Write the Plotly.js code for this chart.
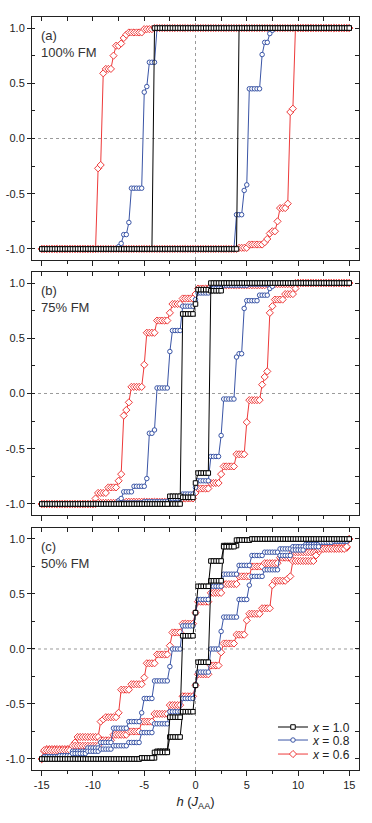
<!DOCTYPE html>
<html><head><meta charset="utf-8">
<script src="https://cdn.plot.ly/plotly-3.0.1.min.js"></script>
<style>html,body{margin:0;padding:0;background:#fff;}#chart{width:372px;height:823px;}</style>
</head><body><div id="chart"></div>
<script>
// field grid h (J_AA)
const H = [-15,-14.75,-14.5,-14.25,-14,-13.75,-13.5,-13.25,-13,-12.75,
-12.5,-12.25,-12,-11.75,-11.5,-11.25,-11,-10.75,-10.5,-10.25,
-10,-9.75,-9.5,-9.25,-9,-8.75,-8.5,-8.25,-8,-7.75,
-7.5,-7.25,-7,-6.75,-6.5,-6.25,-6,-5.75,-5.5,-5.25,
-5,-4.75,-4.5,-4.25,-4,-3.75,-3.5,-3.25,-3,-2.75,
-2.5,-2.25,-2,-1.75,-1.5,-1.25,-1,-0.75,-0.5,-0.25,
0,0.25,0.5,0.75,1,1.25,1.5,1.75,2,2.25,
2.5,2.75,3,3.25,3.5,3.75,4,4.25,4.5,4.75,
5,5.25,5.5,5.75,6,6.25,6.5,6.75,7,7.25,
7.5,7.75,8,8.25,8.5,8.75,9,9.25,9.5,9.75,
10,10.25,10.5,10.75,11,11.25,11.5,11.75,12,12.25,
12.5,12.75,13,13.25,13.5,13.75,14,14.25,14.5,14.75,
15];

// ---- panel (a) 100% FM ----
const aBlackDown = [-1,-1,-1,-1,-1,-1,-1,-1,-1,-1,
-1,-1,-1,-1,-1,-1,-1,-1,-1,-1,
-1,-1,-1,-1,-1,-1,-1,-1,-1,-1,
-1,-1,-1,-1,-1,-1,-1,-1,-1,-1,
-1,-1,-1,-1,1,1,1,1,1,1,
1,1,1,1,1,1,1,1,1,1,
1,1,1,1,1,1,1,1,1,1,
1,1,1,1,1,1,1,1,1,1,
1,1,1,1,1,1,1,1,1,1,
1,1,1,1,1,1,1,1,1,1,
1,1,1,1,1,1,1,1,1,1,
1,1,1,1,1,1,1,1,1,1,
1];
const aBlackUp = [-1,-1,-1,-1,-1,-1,-1,-1,-1,-1,
-1,-1,-1,-1,-1,-1,-1,-1,-1,-1,
-1,-1,-1,-1,-1,-1,-1,-1,-1,-1,
-1,-1,-1,-1,-1,-1,-1,-1,-1,-1,
-1,-1,-1,-1,-1,-1,-1,-1,-1,-1,
-1,-1,-1,-1,-1,-1,-1,-1,-1,-1,
-1,-1,-1,-1,-1,-1,-1,-1,-1,-1,
-1,-1,-1,-1,-1,-1,-1,1,1,1,
1,1,1,1,1,1,1,1,1,1,
1,1,1,1,1,1,1,1,1,1,
1,1,1,1,1,1,1,1,1,1,
1,1,1,1,1,1,1,1,1,1,
1];
const aBlueDown = [-1,-1,-1,-1,-1,-1,-1,-1,-1,-1,
-1,-1,-1,-1,-1,-1,-1,-1,-1,-1,
-1,-1,-1,-1,-1,-1,-1,-1,-1,-1,
-0.98,-0.95,-0.87,-0.87,-0.76,-0.45,-0.45,-0.45,-0.45,-0.45,
0.42,0.47,0.69,0.69,0.69,1,1,1,1,1,
1,1,1,1,1,1,1,1,1,1,
1,1,1,1,1,1,1,1,1,1,
1,1,1,1,1,1,1,1,1,1,
1,1,1,1,1,1,1,1,1,1,
1,1,1,1,1,1,1,1,1,1,
1,1,1,1,1,1,1,1,1,1,
1,1,1,1,1,1,1,1,1,1,
1];
const aBlueUp = [-1,-1,-1,-1,-1,-1,-1,-1,-1,-1,
-1,-1,-1,-1,-1,-1,-1,-1,-1,-1,
-1,-1,-1,-1,-1,-1,-1,-1,-1,-1,
-1,-1,-1,-1,-1,-1,-1,-1,-1,-1,
-1,-1,-1,-1,-1,-1,-1,-1,-1,-1,
-1,-1,-1,-1,-1,-1,-1,-1,-1,-1,
-1,-1,-1,-1,-1,-1,-1,-1,-1,-1,
-1,-1,-1,-1,-1,-1,-0.69,-0.69,-0.69,-0.47,
-0.42,0.45,0.45,0.45,0.45,0.45,0.76,0.87,0.87,0.95,
0.98,1,1,1,1,1,1,1,1,1,
1,1,1,1,1,1,1,1,1,1,
1,1,1,1,1,1,1,1,1,1,
1];
const aRedDown = [-1,-1,-1,-1,-1,-1,-1,-1,-1,-1,
-1,-1,-1,-1,-1,-1,-1,-1,-1,-1,
-1,-1,-0.27,-0.24,0.59,0.63,0.63,0.63,0.75,0.84,
0.84,0.86,0.91,0.94,0.96,0.96,0.96,0.96,0.96,0.96,
0.99,0.99,0.99,0.99,1,1,1,1,1,1,
1,1,1,1,1,1,1,1,1,1,
1,1,1,1,1,1,1,1,1,1,
1,1,1,1,1,1,1,1,1,1,
1,1,1,1,1,1,1,1,1,1,
1,1,1,1,1,1,1,1,1,1,
1,1,1,1,1,1,1,1,1,1,
1,1,1,1,1,1,1,1,1,1,
1];
const aRedUp = [-1,-1,-1,-1,-1,-1,-1,-1,-1,-1,
-1,-1,-1,-1,-1,-1,-1,-1,-1,-1,
-1,-1,-1,-1,-1,-1,-1,-1,-1,-1,
-1,-1,-1,-1,-1,-1,-1,-1,-1,-1,
-1,-1,-1,-1,-1,-1,-1,-1,-1,-1,
-1,-1,-1,-1,-1,-1,-1,-1,-1,-1,
-1,-1,-1,-1,-1,-1,-1,-1,-1,-1,
-1,-1,-1,-1,-1,-1,-1,-0.99,-0.99,-0.99,
-0.99,-0.96,-0.96,-0.96,-0.96,-0.96,-0.96,-0.94,-0.91,-0.86,
-0.84,-0.84,-0.75,-0.63,-0.63,-0.63,-0.59,0.24,0.27,1,
1,1,1,1,1,1,1,1,1,1,
1,1,1,1,1,1,1,1,1,1,
1];

// ---- panel (b) 75% FM ----
const bBlackDown = [-1,-1,-1,-1,-1,-1,-1,-1,-1,-1,
-1,-1,-1,-1,-1,-1,-1,-1,-1,-1,
-1,-1,-1,-1,-1,-1,-1,-1,-1,-1,
-1,-1,-1,-1,-1,-1,-1,-1,-1,-1,
-1,-1,-1,-1,-1,-1,-1,-1,-1,-1,
-1,-1,-1,-1,-1,0.72,0.72,0.72,0.72,0.72,
0.81,0.94,0.94,0.94,0.94,0.94,0.93,0.93,0.93,0.93,
0.93,1,1,1,1,1,1,1,1,1,
1,1,1,1,1,1,1,1,1,1,
1,1,1,1,1,1,1,1,1,1,
1,1,1,1,1,1,1,1,1,1,
1,1,1,1,1,1,1,1,1,1,
1];
const bBlackUp = [-1,-1,-1,-1,-1,-1,-1,-1,-1,-1,
-1,-1,-1,-1,-1,-1,-1,-1,-1,-1,
-1,-1,-1,-1,-1,-1,-1,-1,-1,-1,
-1,-1,-1,-1,-1,-1,-1,-1,-1,-1,
-1,-1,-1,-1,-1,-1,-1,-1,-1,-1,
-0.93,-0.93,-0.93,-0.93,-0.93,-0.94,-0.94,-0.94,-0.94,-0.94,
-0.81,-0.72,-0.72,-0.72,-0.72,-0.72,1,1,1,1,
1,1,1,1,1,1,1,1,1,1,
1,1,1,1,1,1,1,1,1,1,
1,1,1,1,1,1,1,1,1,1,
1,1,1,1,1,1,1,1,1,1,
1,1,1,1,1,1,1,1,1,1,
1];
const bBlueDown = [-1,-1,-1,-1,-1,-1,-1,-1,-1,-1,
-1,-1,-1,-1,-1,-1,-1,-1,-1,-1,
-1,-1,-1,-1,-1,-1,-1,-1,-1,-1,
-0.97,-0.95,-0.89,-0.89,-0.89,-0.89,-0.84,-0.84,-0.84,-0.84,
-0.84,-0.77,-0.36,-0.36,-0.33,0.05,0.05,0.05,0.05,0.05,
0.38,0.57,0.57,0.57,0.57,0.79,0.79,0.79,0.79,0.79,
0.85,0.91,0.91,0.91,0.91,0.91,0.95,0.95,0.95,0.95,
0.95,0.98,0.98,0.98,0.98,0.98,0.98,0.98,0.98,0.98,
0.98,0.99,0.99,0.99,0.99,0.99,0.99,0.99,0.99,0.99,
0.99,1,1,1,1,1,1,1,1,1,
1,1,1,1,1,1,1,1,1,1,
1,1,1,1,1,1,1,1,1,1,
1];
const bBlueUp = [-1,-1,-1,-1,-1,-1,-1,-1,-1,-1,
-1,-1,-1,-1,-1,-1,-1,-1,-1,-1,
-1,-1,-1,-1,-1,-1,-1,-1,-1,-1,
-0.99,-0.99,-0.99,-0.99,-0.99,-0.99,-0.99,-0.99,-0.99,-0.99,
-0.98,-0.98,-0.98,-0.98,-0.98,-0.98,-0.98,-0.98,-0.98,-0.98,
-0.95,-0.95,-0.95,-0.95,-0.95,-0.91,-0.91,-0.91,-0.91,-0.91,
-0.85,-0.79,-0.79,-0.79,-0.79,-0.79,-0.57,-0.57,-0.57,-0.57,
-0.38,-0.05,-0.05,-0.05,-0.05,-0.05,0.33,0.36,0.36,0.77,
0.84,0.84,0.84,0.84,0.84,0.89,0.89,0.89,0.89,0.95,
0.97,1,1,1,1,1,1,1,1,1,
1,1,1,1,1,1,1,1,1,1,
1,1,1,1,1,1,1,1,1,1,
1];
const bRedDown = [-1,-1,-1,-1,-1,-1,-1,-1,-1,-1,
-1,-1,-1,-1,-1,-1,-1,-1,-1,-1,
-1,-0.95,-0.9,-0.9,-0.9,-0.9,-0.85,-0.85,-0.85,-0.85,
-0.79,-0.73,-0.2,-0.15,-0.08,0.06,0.06,0.06,0.06,0.06,
0.26,0.55,0.55,0.55,0.55,0.66,0.66,0.66,0.66,0.66,
0.73,0.81,0.81,0.81,0.81,0.86,0.86,0.86,0.86,0.86,
0.9,0.95,0.95,0.95,0.95,0.95,0.97,0.97,0.97,0.97,
0.97,0.98,0.98,0.98,0.98,0.98,0.98,0.98,0.98,0.98,
0.98,0.98,0.98,0.98,0.98,0.98,0.98,0.98,0.99,0.99,
0.99,0.99,0.99,0.99,0.99,0.99,0.99,0.99,0.99,1,
1,1,1,1,1,1,1,1,1,1,
1,1,1,1,1,1,1,1,1,1,
1];
const bRedUp = [-1,-1,-1,-1,-1,-1,-1,-1,-1,-1,
-1,-1,-1,-1,-1,-1,-1,-1,-1,-1,
-1,-1,-0.99,-0.99,-0.99,-0.99,-0.99,-0.99,-0.99,-0.99,
-0.99,-0.99,-0.99,-0.98,-0.98,-0.98,-0.98,-0.98,-0.98,-0.98,
-0.98,-0.98,-0.98,-0.98,-0.98,-0.98,-0.98,-0.98,-0.98,-0.98,
-0.97,-0.97,-0.97,-0.97,-0.97,-0.95,-0.95,-0.95,-0.95,-0.95,
-0.9,-0.86,-0.86,-0.86,-0.86,-0.86,-0.81,-0.81,-0.81,-0.81,
-0.73,-0.66,-0.66,-0.66,-0.66,-0.66,-0.55,-0.55,-0.55,-0.55,
-0.26,-0.06,-0.06,-0.06,-0.06,-0.06,0.08,0.15,0.2,0.73,
0.79,0.85,0.85,0.85,0.85,0.9,0.9,0.9,0.9,0.95,
1,1,1,1,1,1,1,1,1,1,
1,1,1,1,1,1,1,1,1,1,
1];

// ---- panel (c) 50% FM ----
const cBlackDown = [-1,-1,-1,-1,-1,-1,-1,-1,-1,-1,
-1,-1,-1,-1,-1,-1,-1,-1,-1,-1,
-1,-1,-1,-1,-1,-1,-1,-1,-1,-1,
-1,-1,-1,-1,-1,-1,-1,-1,-1,-0.99,
-0.99,-0.99,-0.99,-0.99,-0.99,-0.93,-0.93,-0.93,-0.93,-0.93,
-0.8,-0.8,-0.8,-0.8,-0.8,-0.57,-0.57,-0.57,-0.57,-0.57,
-0.33,-0.12,-0.12,-0.12,-0.12,-0.12,0.62,0.62,0.62,0.62,
0.62,0.94,0.94,0.94,0.94,0.94,0.94,0.99,0.99,0.99,
0.99,0.99,1,1,1,1,1,1,1,1,
1,1,1,1,1,1,1,1,1,1,
1,1,1,1,1,1,1,1,1,1,
1,1,1,1,1,1,1,1,1,1,
1];
const cBlackUp = [-1,-1,-1,-1,-1,-1,-1,-1,-1,-1,
-1,-1,-1,-1,-1,-1,-1,-1,-1,-1,
-1,-1,-1,-1,-1,-1,-1,-1,-1,-1,
-1,-1,-1,-1,-1,-1,-1,-1,-1,-0.99,
-0.99,-0.99,-0.99,-0.99,-0.94,-0.94,-0.94,-0.94,-0.94,-0.94,
-0.62,-0.62,-0.62,-0.62,-0.62,0.12,0.12,0.12,0.12,0.12,
0.33,0.57,0.57,0.57,0.57,0.57,0.8,0.8,0.8,0.8,
0.8,0.93,0.93,0.93,0.93,0.93,0.99,0.99,0.99,0.99,
0.99,0.99,1,1,1,1,1,1,1,1,
1,1,1,1,1,1,1,1,1,1,
1,1,1,1,1,1,1,1,1,1,
1,1,1,1,1,1,1,1,1,1,
1];
const cBlueDown = [-1,-0.98,-0.98,-0.98,-0.98,-0.98,-0.98,-0.97,-0.97,-0.97,
-0.97,-0.97,-0.93,-0.93,-0.93,-0.93,-0.93,-0.93,-0.9,-0.9,
-0.9,-0.9,-0.9,-0.85,-0.85,-0.85,-0.85,-0.85,-0.72,-0.72,
-0.72,-0.72,-0.72,-0.72,-0.66,-0.66,-0.66,-0.66,-0.66,-0.58,
-0.45,-0.45,-0.45,-0.45,-0.29,-0.29,-0.29,-0.29,-0.29,-0.29,
-0.16,0,0,0,0,0.21,0.21,0.21,0.21,0.21,
0.33,0.45,0.45,0.45,0.45,0.45,0.57,0.57,0.57,0.57,
0.57,0.68,0.68,0.68,0.68,0.68,0.68,0.76,0.76,0.76,
0.76,0.76,0.85,0.85,0.85,0.85,0.85,0.88,0.88,0.88,
0.88,0.88,0.88,0.91,0.91,0.91,0.91,0.91,0.93,0.93,
0.93,0.93,0.93,0.95,0.95,0.95,0.95,0.95,0.95,0.97,
0.97,0.97,0.97,0.97,0.98,0.98,0.98,0.98,0.98,0.98,
1];
const cBlueUp = [-1,-0.98,-0.98,-0.98,-0.98,-0.98,-0.98,-0.97,-0.97,-0.97,
-0.97,-0.97,-0.95,-0.95,-0.95,-0.95,-0.95,-0.95,-0.93,-0.93,
-0.93,-0.93,-0.93,-0.91,-0.91,-0.91,-0.91,-0.91,-0.88,-0.88,
-0.88,-0.88,-0.88,-0.88,-0.85,-0.85,-0.85,-0.85,-0.85,-0.76,
-0.76,-0.76,-0.76,-0.76,-0.68,-0.68,-0.68,-0.68,-0.68,-0.68,
-0.57,-0.57,-0.57,-0.57,-0.57,-0.45,-0.45,-0.45,-0.45,-0.45,
-0.33,-0.21,-0.21,-0.21,-0.21,-0.21,0,0,0,0,
0.16,0.29,0.29,0.29,0.29,0.29,0.29,0.45,0.45,0.45,
0.45,0.58,0.66,0.66,0.66,0.66,0.66,0.72,0.72,0.72,
0.72,0.72,0.72,0.85,0.85,0.85,0.85,0.85,0.9,0.9,
0.9,0.9,0.9,0.93,0.93,0.93,0.93,0.93,0.93,0.97,
0.97,0.97,0.97,0.97,0.98,0.98,0.98,0.98,0.98,0.98,
1];
const cRedDown = [-1,-0.93,-0.91,-0.91,-0.91,-0.91,-0.91,-0.91,-0.91,-0.91,
-0.91,-0.91,-0.91,-0.85,-0.8,-0.8,-0.8,-0.8,-0.8,-0.8,
-0.8,-0.8,-0.8,-0.66,-0.64,-0.62,-0.62,-0.62,-0.62,-0.62,
-0.58,-0.37,-0.37,-0.37,-0.37,-0.32,-0.32,-0.32,-0.32,-0.32,
-0.26,-0.13,-0.13,-0.13,-0.13,-0.05,-0.05,-0.05,-0.05,-0.05,
0.03,0.15,0.15,0.15,0.15,0.23,0.23,0.23,0.23,0.23,
0.33,0.43,0.43,0.43,0.43,0.43,0.51,0.51,0.51,0.51,
0.51,0.59,0.59,0.59,0.59,0.59,0.59,0.66,0.66,0.66,
0.66,0.66,0.75,0.75,0.75,0.75,0.75,0.78,0.78,0.78,
0.78,0.78,0.78,0.83,0.83,0.83,0.83,0.83,0.88,0.88,
0.88,0.88,0.88,0.88,0.88,0.88,0.88,0.88,0.88,0.92,
0.92,0.92,0.92,0.92,0.92,0.92,0.92,0.92,0.92,0.92,
1];
const cRedUp = [-1,-0.92,-0.92,-0.92,-0.92,-0.92,-0.92,-0.92,-0.92,-0.92,
-0.92,-0.92,-0.88,-0.88,-0.88,-0.88,-0.88,-0.88,-0.88,-0.88,
-0.88,-0.88,-0.88,-0.83,-0.83,-0.83,-0.83,-0.83,-0.78,-0.78,
-0.78,-0.78,-0.78,-0.78,-0.75,-0.75,-0.75,-0.75,-0.75,-0.66,
-0.66,-0.66,-0.66,-0.66,-0.59,-0.59,-0.59,-0.59,-0.59,-0.59,
-0.51,-0.51,-0.51,-0.51,-0.51,-0.43,-0.43,-0.43,-0.43,-0.43,
-0.33,-0.23,-0.23,-0.23,-0.23,-0.23,-0.15,-0.15,-0.15,-0.15,
-0.03,0.05,0.05,0.05,0.05,0.05,0.13,0.13,0.13,0.13,
0.26,0.32,0.32,0.32,0.32,0.32,0.37,0.37,0.37,0.37,
0.58,0.62,0.62,0.62,0.62,0.62,0.64,0.66,0.8,0.8,
0.8,0.8,0.8,0.8,0.8,0.8,0.8,0.85,0.91,0.91,
0.91,0.91,0.91,0.91,0.91,0.91,0.91,0.91,0.91,0.93,
1];

const seriesNames = ['<i>x</i> = 1.0', '<i>x</i> = 0.8', '<i>x</i> = 0.6'];
const panelLabels = ['(a)<br>100% FM', '(b)<br>75% FM', '(c)<br>50% FM'];
const xTickVals = [-15, -10, -5, 0, 5, 10, 15];
const xTickText = ['-15', '-10', '-5', '0', '5', '10', '15'];
const yTickVals = [-1, -0.5, 0, 0.5, 1];
const yTickText = ['-1.0', '-0.5', '0.0', '0.5', '1.0'];

const FONT = 'Liberation Sans, Arial, Helvetica, sans-serif';
const styles = [
  {color: '#000000', symbol: 'square', size: 4.5},
  {color: '#3a55a6', symbol: 'circle', size: 4.5},
  {color: '#ee3a3a', symbol: 'diamond', size: 5.5}
];
const panelSeries = [
  [[aBlackDown, aBlackUp], [aBlueDown, aBlueUp], [aRedDown, aRedUp]],
  [[bBlackDown, bBlackUp], [bBlueDown, bBlueUp], [bRedDown, bRedUp]],
  [[cBlackDown, cBlackUp], [cBlueDown, cBlueUp], [cRedDown, cRedUp]]
];
// panels a, b, c -> axes
const axes = [
  {x: 'x3', y: 'y3', ox: 'x6', oy: 'y6', dom: [0.6773, 1.0]},
  {x: 'x2', y: 'y2', ox: 'x5', oy: 'y5', dom: [0.3386, 0.6614]},
  {x: 'x', y: 'y', ox: 'x4', oy: 'y4', dom: [0.0, 0.3214]}
];
const legendIds = ['legend', 'legend2', 'legend3'];

const traces = [];
panelSeries.forEach((ser, p) => {
  [2, 1, 0].forEach(s => {
    ser[s].forEach((arr, b) => {
      const st = styles[s];
      traces.push({
        x: H, y: arr, xaxis: axes[p].x, yaxis: axes[p].y,
        type: 'scatter', mode: 'lines+markers',
        line: {color: st.color, width: 1},
        marker: {symbol: st.symbol, size: st.size, color: '#ffffff', line: {color: st.color, width: 1}},
        name: seriesNames[s], legend: legendIds[s],
        showlegend: (p === 2 && b === 1), hoverinfo: 'skip'
      });
    });
  });
  traces.push({x: [], y: [], xaxis: axes[p].ox, yaxis: axes[p].oy, type: 'scatter', mode: 'markers', showlegend: false, hoverinfo: 'skip'});
});

const XR = [-15.95, 15.95], YR = [-1.1, 1.1];
const layout = {
  width: 372, height: 823,
  margin: {l: 32, r: 13, t: 17, b: 53},
  paper_bgcolor: '#ffffff', plot_bgcolor: '#ffffff',
  font: {family: FONT, size: 11, color: '#222222'},
  shapes: [], annotations: []
};
axes.forEach((ax, p) => {
  const xk = ax.x === 'x' ? 'xaxis' : 'xaxis' + ax.x.slice(1);
  const yk = ax.y === 'y' ? 'yaxis' : 'yaxis' + ax.y.slice(1);
  const oxk = 'xaxis' + ax.ox.slice(1);
  const oyk = 'yaxis' + ax.oy.slice(1);
  layout[xk] = {
    domain: [0, 1], anchor: ax.y, range: XR, showline: true, linecolor: '#222', linewidth: 1,
    ticks: 'outside', ticklen: 5, tickwidth: 1, tickcolor: '#222',
    tickmode: 'array', tickvals: xTickVals, ticktext: xTickText,
    showticklabels: p === 2, tickfont: {size: 11, color: '#222'},
    minor: {tickmode: 'linear', tick0: 0, dtick: 2.5, ticks: 'outside', ticklen: 3, tickcolor: '#222'},
    showgrid: false, zeroline: false, fixedrange: true
  };
  if (p === 2) {
    layout[xk].title = {text: '<i>h</i> (<i>J</i><sub>AA</sub>)', font: {size: 13, color: '#222'}, standoff: 6};
  }
  layout[yk] = {
    domain: ax.dom, anchor: ax.x, range: YR, showline: true, linecolor: '#222', linewidth: 1,
    ticks: 'outside', ticklen: 4, tickwidth: 1, tickcolor: '#222',
    tickmode: 'array', tickvals: yTickVals, ticktext: yTickText,
    tickfont: {size: 11, color: '#222'},
    minor: {tickmode: 'linear', tick0: 0, dtick: 0.25, ticks: 'inside', ticklen: 3, tickcolor: '#222'},
    showgrid: false, zeroline: false, fixedrange: true
  };
  layout[oxk] = {
    overlaying: ax.x, anchor: ax.oy, side: 'top', range: XR, showline: true, linecolor: '#222', linewidth: 1,
    ticks: 'inside', ticklen: 4, tickcolor: '#222', tickmode: 'linear', tick0: 0, dtick: 2.5,
    showticklabels: false, showgrid: false, zeroline: false, fixedrange: true
  };
  layout[oyk] = {
    overlaying: ax.y, anchor: ax.ox, side: 'right', range: YR, showline: true, linecolor: '#222', linewidth: 1,
    ticks: 'inside', ticklen: 4, tickcolor: '#222', tickmode: 'linear', tick0: 0, dtick: 0.25,
    showticklabels: false, showgrid: false, zeroline: false, fixedrange: true
  };
  layout.shapes.push({type: 'line', xref: ax.x, yref: ax.y + ' domain', x0: 0, x1: 0, y0: 0, y1: 1,
    line: {color: '#9a9a9a', width: 1, dash: 'dot'}, layer: 'below'});
  layout.shapes.push({type: 'line', xref: ax.x + ' domain', yref: ax.y, x0: 0, x1: 1, y0: 0, y1: 0,
    line: {color: '#9a9a9a', width: 1, dash: 'dot'}, layer: 'below'});
  layout.annotations.push({xref: ax.x + ' domain', yref: ax.y + ' domain', x: 0.022, y: 0.961,
    xanchor: 'left', yanchor: 'top', align: 'left', showarrow: false,
    text: panelLabels[p], font: {size: 13, color: '#333'}});
});
const legY = [0.0571, 0.0398, 0.0212];
legendIds.forEach((id, i) => {
  layout[id] = {x: 0.737, y: legY[i], xanchor: 'left', yanchor: 'middle', bgcolor: 'rgba(0,0,0,0)',
    borderwidth: 0, font: {size: 12, color: '#222'}, tracegroupgap: 0};
});
Plotly.newPlot('chart', traces, layout, {displayModeBar: false, staticPlot: true});
</script>
</body></html>
